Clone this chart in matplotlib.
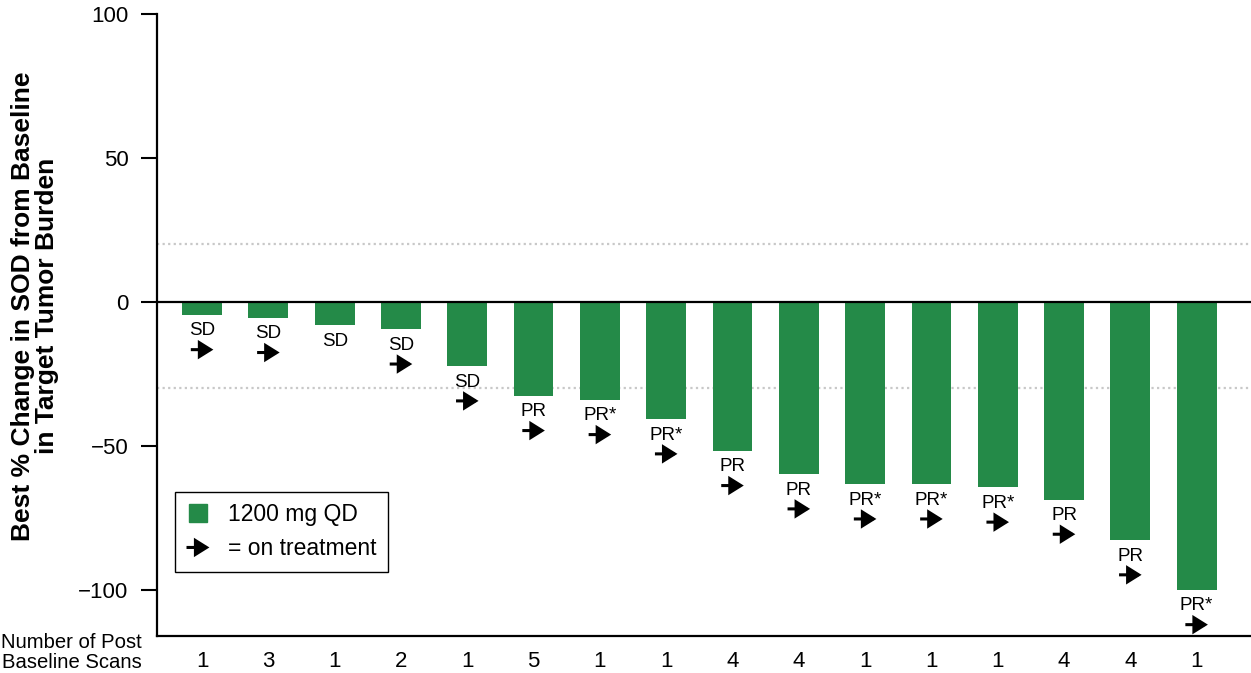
import matplotlib
matplotlib.use("Agg")
import matplotlib.pyplot as plt
from matplotlib.lines import Line2D
from matplotlib.patches import FancyArrowPatch
from matplotlib.legend_handler import HandlerBase
from matplotlib.transforms import offset_copy

plt.rcParams["font.family"] = ["Liberation Sans", "DejaVu Sans"]

# best % change per patient (waterfall order)
changes = [-4.5, -5.5, -8.1, -9.5, -22.3, -32.6, -34.0, -40.7,
           -51.7, -59.8, -63.3, -63.3, -64.4, -68.6, -82.7, -100.0]
responses = ["SD", "SD", "SD", "SD", "SD", "PR", "PR*", "PR*",
             "PR", "PR", "PR*", "PR*", "PR*", "PR", "PR", "PR*"]
on_treatment = [True, True, False, True, True, True, True, True,
                True, True, True, True, True, True, True, True]
scan_counts = [1, 3, 1, 2, 1, 5, 1, 1, 4, 4, 1, 1, 1, 4, 4, 1]
ref_lines = [20, -30]
y_ticks = [-100, -50, 0, 50, 100]

green = "#248a48"
arrow_kw = dict(arrowstyle="-|>,head_length=0.8,head_width=0.5",
                mutation_scale=10, lw=2.2, color="black",
                shrinkA=0, shrinkB=0, joinstyle="miter", capstyle="butt")


# legend handle: short black arrow
class ArrowHandler(HandlerBase):
    def create_artists(self, legend, orig_handle, xdescent, ydescent,
                       width, height, fontsize, trans):
        y = height / 2 - ydescent
        a = FancyArrowPatch((-xdescent, y), (-xdescent + width, y),
                            transform=trans, **arrow_kw)
        return [a]


fig = plt.figure(figsize=(12.51, 6.73), dpi=100)
ax = fig.add_axes([157 / 1251, 37 / 673, 1094 / 1251, 622 / 673])

x = list(range(len(changes)))
ax.bar(x, changes, width=0.6, color=green, zorder=3)

for yv in ref_lines:
    ax.axhline(yv, color="#c8c8c8", lw=1.6, ls=(0, (1, 1.5)), zorder=1)
ax.axhline(0, color="black", lw=1.6, zorder=4)

# response labels and on-treatment arrows under each bar
for i, (v, r, on) in enumerate(zip(changes, responses, on_treatment)):
    ax.annotate(r, xy=(i, v), xytext=(0, -11.5), textcoords="offset points",
                ha="center", va="center", fontsize=13.5)
    if on:
        t = offset_copy(ax.transData, fig=fig, x=0, y=-25, units="points")
        ax.annotate("", xy=(i + 0.17, v), xycoords=t,
                    xytext=(i - 0.17, v), textcoords=t, arrowprops=arrow_kw)

ax.set_xlim(-0.68, 15.82)
ax.set_ylim(-116, 100)
ax.set_yticks(y_ticks)
ax.tick_params(axis="y", length=11.5, width=1.5, pad=9, labelsize=16)
ax.set_xticks(x)
ax.set_xticklabels([str(c) for c in scan_counts])
ax.tick_params(axis="x", length=0, pad=11, labelsize=16)

for s in ["top", "right"]:
    ax.spines[s].set_visible(False)
for s in ["left", "bottom"]:
    ax.spines[s].set_linewidth(1.6)

ax.text(-0.0137, -0.027, "Number of Post\nBaseline Scans", transform=ax.transAxes,
        ha="right", va="center", fontsize=14.6, linespacing=1.05)

fig.text(35 / 1251, 1 - 306 / 673,
         "Best % Change in SOD from Baseline\nin Target Tumor Burden",
         rotation=90, ha="center", va="center", fontsize=19,
         fontweight="bold", linespacing=1.0)

handles = [Line2D([], [], marker="s", ms=12.5, color=green, ls="none"),
           object()]
leg = ax.legend(handles, ["1200 mg QD", "= on treatment"],
                handler_map={object: ArrowHandler()},
                loc="lower left", bbox_to_anchor=(0.0165, 0.103),
                borderaxespad=0, fontsize=16.5, handlelength=1.0,
                handletextpad=0.8, labelspacing=0.5, borderpad=0.5,
                fancybox=False, framealpha=1, edgecolor="black")
leg.get_frame().set_linewidth(1.0)

fig.savefig("out.png", dpi=100)
